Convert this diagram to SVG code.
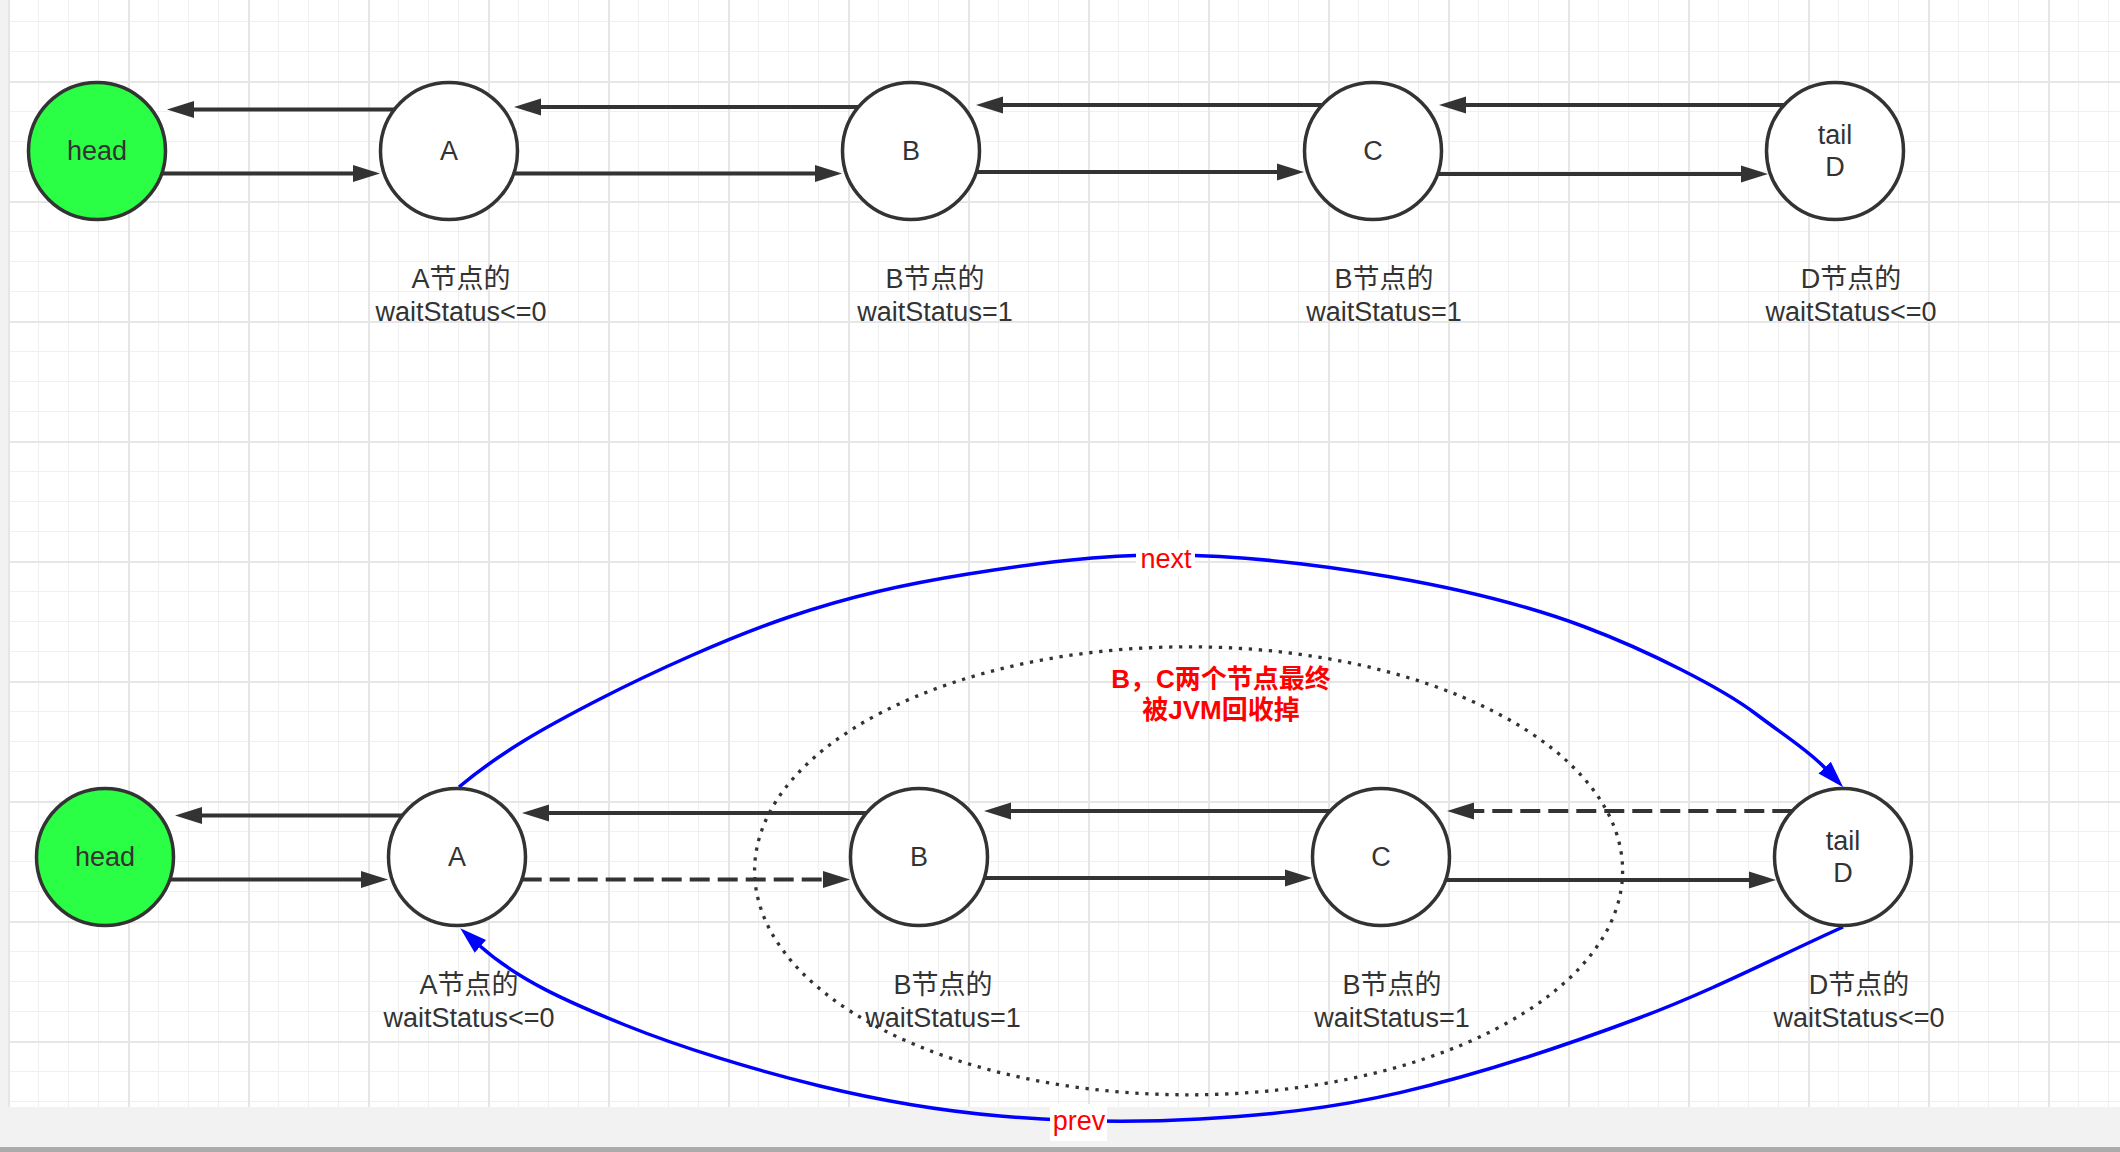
<svg xmlns="http://www.w3.org/2000/svg" width="2120" height="1152" viewBox="0 0 2120 1152">
<defs>
<pattern id="grid" x="8" y="81" width="120" height="120" patternUnits="userSpaceOnUse">
<rect width="120" height="120" fill="#ffffff"/>
<path d="M30.5,0V120M60.5,0V120M90.5,0V120M0,30.5H120M0,60.5H120M0,90.5H120" stroke="#f0f0f0" stroke-width="1"/>
<path d="M1,0V120M0,1H120" stroke="#e6e6e6" stroke-width="2"/>
</pattern>
<marker id="arrow" viewBox="0 0 28 18" markerWidth="28" markerHeight="18" refX="1" refY="9" orient="auto" markerUnits="userSpaceOnUse"><path d="M0,0.5L27,9L0,17.5z" fill="#333333"/></marker>
<marker id="arrow-blue" viewBox="0 0 28 18" markerWidth="28" markerHeight="18" refX="0.5" refY="9" orient="auto" markerUnits="userSpaceOnUse"><path d="M0,0.5L27,9L0,17.5z" fill="#0000ff"/></marker>
</defs>
<style>
.edge{stroke:#333333;stroke-width:4;fill:none;marker-end:url(#arrow)}
.dashed{stroke-dasharray:20 8}
.blue{stroke:#0000ff;stroke-width:3.5;fill:none;marker-end:url(#arrow-blue)}
.node{fill:#ffffff;stroke:#333333;stroke-width:3.5}
.head{fill:#2bff45}
text{font-family:"Liberation Sans","Noto Sans CJK SC",sans-serif;font-size:27px;fill:#333333;text-anchor:middle}
.red{fill:#ff0000}
.bold{font-weight:bold;font-size:26px}
</style>
<rect x="0" y="0" width="2120" height="1152" fill="#f2f2f2"/>
<rect x="8" y="0" width="2112" height="1107" fill="url(#grid)"/>
<rect x="0" y="1147" width="2120" height="5" fill="#ababab"/>

<g id="gc-region">
<ellipse cx="1188.6" cy="870.8" rx="434" ry="224" fill="none" stroke="#333333" stroke-width="3.3" stroke-dasharray="3.3 6.7"/>
<text class="red bold" x="1221" y="688">B，C两个节点最终</text>
<text class="red bold" x="1221" y="718.5">被JVM回收掉</text>
</g>

<g id="connectors">
<line class="edge" x1="394.5" y1="109.5" x2="193" y2="109.5"/>
<line class="edge" x1="161.7" y1="173.5" x2="354" y2="173.5"/>
<line class="edge" x1="858.5" y1="107" x2="540" y2="107"/>
<line class="edge" x1="513.7" y1="173.5" x2="816" y2="173.5"/>
<line class="edge" x1="1322.3" y1="105" x2="1002" y2="105"/>
<line class="edge" x1="976.2" y1="172" x2="1278" y2="172"/>
<line class="edge" x1="1784.3" y1="105" x2="1465" y2="105"/>
<line class="edge" x1="1437.5" y1="174" x2="1742" y2="174"/>

<line class="edge" x1="402.5" y1="815.5" x2="201" y2="815.5"/>
<line class="edge" x1="169.7" y1="879.5" x2="362" y2="879.5"/>
<line class="edge" x1="866.5" y1="813" x2="548" y2="813"/>
<line class="edge dashed" x1="521.7" y1="879.5" x2="824" y2="879.5"/>
<line class="edge" x1="1330.3" y1="811" x2="1010" y2="811"/>
<line class="edge" x1="984.2" y1="878" x2="1286" y2="878"/>
<line class="edge dashed" x1="1792.3" y1="811" x2="1473" y2="811"/>
<line class="edge" x1="1445.5" y1="880" x2="1750" y2="880"/>

<path class="blue" d="M459,787 C501,752 543,728.3 598,700 C653,671.7 727.3,638 789,617 C850.7,596 904.5,584.3 968,574 C1031.5,563.7 1099.5,554.5 1170,555 C1240.5,555.5 1321.8,565 1391,577 C1460.2,589 1524.5,604.3 1585,627 C1645.5,649.7 1722,688 1756,714 C1785,736 1808,750 1825,768"/>
<path class="blue" d="M1843,927 C1775.5,957.4 1712.8,990.4 1639,1018 C1565.2,1045.6 1473.2,1075.8 1400,1092.6 C1326.8,1109.4 1266.7,1115.1 1200,1119 C1133.3,1122.9 1063.3,1121.5 1000,1116 C936.7,1110.5 882.5,1101.2 820,1086 C757.5,1070.8 682,1048 625,1025 C568,1002 518,980 480,946"/>
<rect x="1136" y="541" width="59" height="35" fill="#ffffff"/>
<text class="red" x="1166" y="568">next</text>
<rect x="1050" y="1104" width="57" height="37" fill="#ffffff"/>
<text class="red" x="1079" y="1130">prev</text>
</g>

<g id="node-head-top"><circle class="node head" cx="97" cy="151" r="68.5"/><text x="97" y="160">head</text></g>
<g id="node-a-top"><circle class="node" cx="449" cy="151" r="68.5"/><text x="449" y="160">A</text></g>
<g id="node-b-top"><circle class="node" cx="911" cy="151" r="68.5"/><text x="911" y="160">B</text></g>
<g id="node-c-top"><circle class="node" cx="1373" cy="151" r="68.5"/><text x="1373" y="160">C</text></g>
<g id="node-d-top"><circle class="node" cx="1835" cy="151" r="68.5"/><text x="1835" y="143.5">tail</text><text x="1835" y="176">D</text></g>

<g id="label-a-top"><text x="461" y="288">A节点的</text><text x="461" y="321">waitStatus&lt;=0</text></g>
<g id="label-b-top"><text x="935" y="288">B节点的</text><text x="935" y="321">waitStatus=1</text></g>
<g id="label-c-top"><text x="1384" y="288">B节点的</text><text x="1384" y="321">waitStatus=1</text></g>
<g id="label-d-top"><text x="1851" y="288">D节点的</text><text x="1851" y="321">waitStatus&lt;=0</text></g>

<g id="node-head-bottom"><circle class="node head" cx="105" cy="857" r="68.5"/><text x="105" y="866">head</text></g>
<g id="node-a-bottom"><circle class="node" cx="457" cy="857" r="68.5"/><text x="457" y="866">A</text></g>
<g id="node-b-bottom"><circle class="node" cx="919" cy="857" r="68.5"/><text x="919" y="866">B</text></g>
<g id="node-c-bottom"><circle class="node" cx="1381" cy="857" r="68.5"/><text x="1381" y="866">C</text></g>
<g id="node-d-bottom"><circle class="node" cx="1843" cy="857" r="68.5"/><text x="1843" y="849.5">tail</text><text x="1843" y="882">D</text></g>

<g id="label-a-bottom"><text x="469" y="994">A节点的</text><text x="469" y="1027">waitStatus&lt;=0</text></g>
<g id="label-b-bottom"><text x="943" y="994">B节点的</text><text x="943" y="1027">waitStatus=1</text></g>
<g id="label-c-bottom"><text x="1392" y="994">B节点的</text><text x="1392" y="1027">waitStatus=1</text></g>
<g id="label-d-bottom"><text x="1859" y="994">D节点的</text><text x="1859" y="1027">waitStatus&lt;=0</text></g>
</svg>
